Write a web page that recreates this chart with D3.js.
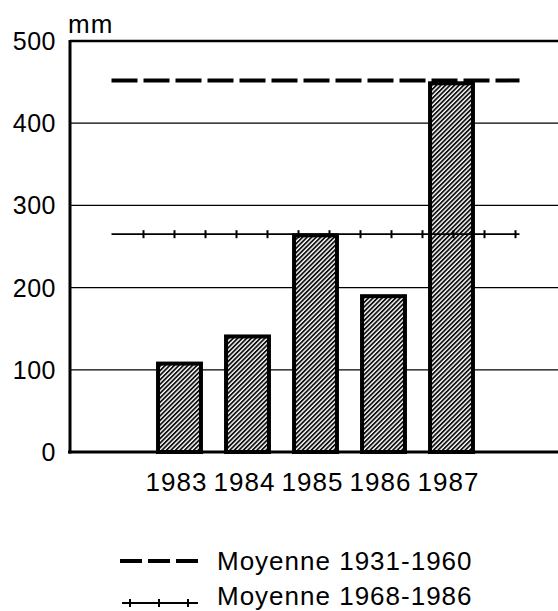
<!DOCTYPE html>
<html>
<head>
<meta charset="utf-8">
<script src="https://cdn.jsdelivr.net/npm/d3@7"></script>
<style>
  body { margin: 0; background: #fff; }
  svg { display: block; font-family: "Liberation Sans", Arial, sans-serif; }
</style>
</head>
<body>
<div id="chart"></div>
<script>
// data
var years = ["1983", "1984", "1985", "1986", "1987"];
var rainfall = [110, 143, 266, 192, 451];
var yTicks = [0, 100, 200, 300, 400, 500];
var refLabels = ["Moyenne 1931-1960", "Moyenne 1968-1986"];
var refValues = [452, 265];

var width = 558, height = 611;

var svg = d3.select("#chart")
    .append("svg")
    .attr("width", width)
    .attr("height", height);

var x = d3.scaleBand()
    .domain(years)
    .range([145.5, 485.5])
    .paddingInner(0.31)
    .paddingOuter(0.155);

var y = d3.scaleLinear()
    .domain([0, 500])
    .range([452, 41]);

var left = 70, right = width;

// hatch pattern for the bars
var defs = svg.append("defs");
var pat = defs.append("pattern")
    .attr("id", "hatch")
    .attr("patternUnits", "userSpaceOnUse")
    .attr("width", 3.2)
    .attr("height", 3.2)
    .attr("patternTransform", "rotate(45)");
pat.append("rect").attr("width", 3.2).attr("height", 3.2).attr("fill", "#fff");
pat.append("rect").attr("width", 1.8).attr("height", 3.2).attr("fill", "#111");

// grid lines
svg.selectAll(".grid")
    .data(yTicks.filter(function (d) { return d > 0 && d < 500; }))
    .enter().append("line")
    .attr("class", "grid")
    .attr("x1", left).attr("x2", right)
    .attr("y1", function (d) { return y(d); })
    .attr("y2", function (d) { return y(d); })
    .attr("stroke", "#000")
    .attr("stroke-width", 1.2);

// top frame line
svg.append("line")
    .attr("x1", left).attr("x2", right)
    .attr("y1", y(500)).attr("y2", y(500))
    .attr("stroke", "#000").attr("stroke-width", 2.6);

// bars
var bw = 4;
svg.selectAll(".bar")
    .data(rainfall)
    .enter().append("rect")
    .attr("class", "bar")
    .attr("x", function (d, i) { return x(years[i]) + bw / 2; })
    .attr("width", x.bandwidth() - bw)
    .attr("y", function (d) { return y(d) + bw / 2; })
    .attr("height", function (d) { return y(0) - y(d) - bw / 2; })
    .attr("fill", "url(#hatch)")
    .attr("stroke", "#000")
    .attr("stroke-width", bw);

// reference lines
var lx0 = x.range()[0] - x.step() / 2,
    lx1 = x.range()[1] + x.step() / 2;

svg.append("line")
    .attr("x1", lx0).attr("x2", lx1)
    .attr("y1", y(refValues[0])).attr("y2", y(refValues[0]))
    .attr("stroke", "#000")
    .attr("stroke-width", 4)
    .attr("stroke-dasharray", "26,6");

svg.append("line")
    .attr("x1", lx0).attr("x2", lx1)
    .attr("y1", y(refValues[1])).attr("y2", y(refValues[1]))
    .attr("stroke", "#000")
    .attr("stroke-width", 1.8);

svg.selectAll(".cross")
    .data(d3.range(lx0 + 32, lx1, 31))
    .enter().append("line")
    .attr("class", "cross")
    .attr("x1", function (d) { return d; })
    .attr("x2", function (d) { return d; })
    .attr("y1", y(refValues[1]) - 4)
    .attr("y2", y(refValues[1]) + 4)
    .attr("stroke", "#000")
    .attr("stroke-width", 2);

// axes
svg.append("line")
    .attr("x1", left).attr("x2", left)
    .attr("y1", y(500) - 1).attr("y2", y(0) + 1.5)
    .attr("stroke", "#000").attr("stroke-width", 3);
svg.append("line")
    .attr("x1", left - 2).attr("x2", right)
    .attr("y1", y(0)).attr("y2", y(0))
    .attr("stroke", "#000").attr("stroke-width", 3);

// y labels
svg.selectAll(".ylab")
    .data(yTicks)
    .enter().append("text")
    .attr("class", "ylab")
    .attr("x", 56)
    .attr("y", function (d) { return y(d); })
    .attr("dy", "0.36em")
    .attr("text-anchor", "end")
    .attr("font-size", 25)
    .attr("letter-spacing", 0.5)
    .text(function (d) { return d; });

svg.append("text")
    .attr("x", 68).attr("y", 33)
    .attr("font-size", 26)
    .attr("letter-spacing", 1)
    .text("mm");

// x labels
svg.selectAll(".xlab")
    .data(years)
    .enter().append("text")
    .attr("class", "xlab")
    .attr("x", function (d) { return x(d) + x.bandwidth() / 2 - 3; })
    .attr("y", 491)
    .attr("text-anchor", "middle")
    .attr("font-size", 26)
    .attr("letter-spacing", 1)
    .text(function (d) { return d; });

// legend
var leg = svg.append("g");
leg.append("line")
    .attr("x1", 120).attr("x2", 198)
    .attr("y1", 561).attr("y2", 561)
    .attr("stroke", "#000").attr("stroke-width", 4)
    .attr("stroke-dasharray", "22,6");
leg.append("line")
    .attr("x1", 122).attr("x2", 198)
    .attr("y1", 603).attr("y2", 603)
    .attr("stroke", "#000").attr("stroke-width", 1.8);
leg.selectAll(".lcross")
    .data([130, 159, 188])
    .enter().append("line")
    .attr("x1", function (d) { return d; })
    .attr("x2", function (d) { return d; })
    .attr("y1", 599).attr("y2", 607)
    .attr("stroke", "#000").attr("stroke-width", 2);
leg.selectAll(".ltext")
    .data(refLabels)
    .enter().append("text")
    .attr("x", 217)
    .attr("y", function (d, i) { return 570 + i * 35; })
    .attr("font-size", 26)
    .attr("letter-spacing", 1)
    .text(function (d) { return d; });
</script>
</body>
</html>
